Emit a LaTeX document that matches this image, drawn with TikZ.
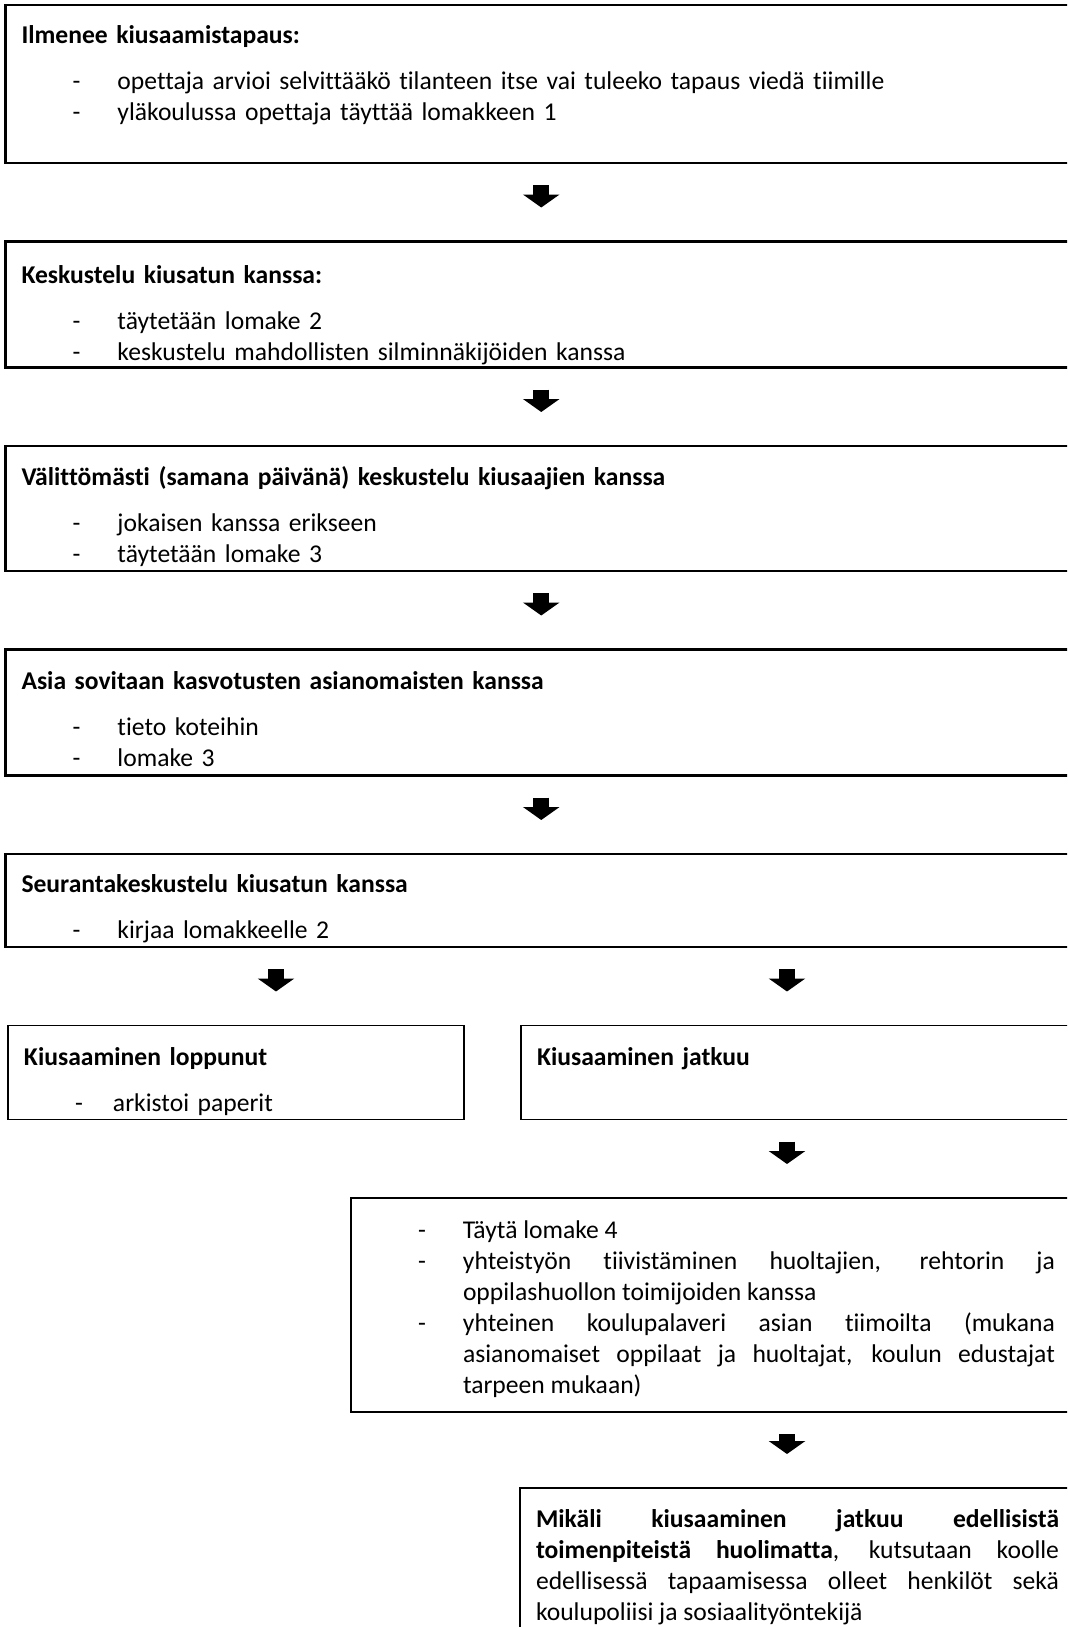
\documentclass[tikz,border=0pt]{standalone}
\usepackage{fontspec}
\setmainfont{Carlito}[Ligatures=NoCommon]
\usetikzlibrary{positioning,arrows.meta,calc}

\hyphenpenalty=10000
\exhyphenpenalty=10000
\tolerance=9999

% otsikkorivi ja viivalla alkava kohta
\newcommand{\otsikko}[1]{\textbf{#1}\par\vspace{7.5pt}}
\newcommand{\viiva}[2][22.5pt]{\hangindent=\dimexpr25.5pt+#1\relax\hangafter=1
  \noindent\hspace*{25.5pt}\makebox[#1][l]{-}#2\par}

\tikzset{laatikko/.style={
    draw,
    line width=1.3pt,
    anchor=north west,
    inner xsep=8pt,
    inner ysep=0pt,
    outer sep=0pt,
    font=\fontsize{12.8pt}{15.5pt}\selectfont,
  }}
\tikzset{ohut/.style={laatikko, line width=0.9pt}}
\tikzset{nuoli/.style={
    -{Triangle[width=18pt,length=6.5pt]},
    line width=8pt,
    shorten <=11pt,
    shorten >=17pt,
  }}

\begin{document}
\begin{tikzpicture}[node distance=39.25pt]
        \useasboundingbox (0,0) rectangle (533.5pt,-813.5pt);
        \clip (0,0) rectangle (533.5pt,-813.5pt);

        \node (b1) [laatikko, text width=519.75pt, text height=19.5pt, text depth=59.5pt] at (2.75pt,-2.5pt) {
          \otsikko{Ilmenee kiusaamistapaus:}
          \viiva{opettaja arvioi selvittääkö tilanteen itse vai tuleeko tapaus viedä tiimille}
          \viiva{yläkoulussa opettaja täyttää lomakkeen 1}
        };

        \node (b2) [laatikko, text width=519.75pt, text height=21pt, text depth=42pt, below=of b1] {
          \otsikko{Keskustelu kiusatun kanssa:}
          \viiva{täytetään lomake 2}
          \viiva{keskustelu mahdollisten silminnäkijöiden kanssa}
        };

        \node (b3) [laatikko, text width=519.75pt, text height=19.5pt, text depth=43pt, below=of b2] {
          \otsikko{Välittömästi (samana päivänä) keskustelu kiusaajien kanssa}
          \viiva{jokaisen kanssa erikseen}
          \viiva{täytetään lomake 3}
        };

        \node (b4) [laatikko, text width=519.75pt, text height=20pt, text depth=43pt, below=of b3] {
          \otsikko{Asia sovitaan kasvotusten asianomaisten kanssa}
          \viiva{tieto koteihin}
          \viiva{lomake 3}
        };

        \node (b5) [laatikko, text width=519.75pt, text height=19pt, text depth=27.5pt, below=of b4] {
          \otsikko{Seurantakeskustelu kiusatun kanssa}
          \viiva{kirjaa lomakkeelle 2}
        };

        \node (b6) [ohut, text width=212pt, text height=20pt, text depth=27pt,
        below right=39.25pt and 1.25pt of b5.south west] {
          \otsikko{Kiusaaminen loppunut}
          \viiva[19pt]{arkistoi paperit}
        };

        \node (b7) [ohut, text width=262pt, text height=20pt, text depth=27pt, right=28.5pt of b6] {
          \textbf{Kiusaaminen jatkuu}
        };

        \node (b8) [ohut, align=justify, text width=344pt, text height=20pt, text depth=87pt,
        below right=39.25pt and -85pt of b7.south west] {
          \viiva{Täytä lomake 4}
          \viiva{yhteistyön tiivistäminen huoltajien, rehtorin ja oppilashuollon toimijoiden kanssa}
          \viiva{yhteinen koulupalaveri asian tiimoilta (mukana asianomaiset oppilaat ja huoltajat, koulun edustajat tarpeen mukaan)}
        };

        \node (b9) [ohut, align=justify, text width=261.5pt, text height=19.5pt, text depth=61pt,
        below right=38pt and 84.5pt of b8.south west] {
          \textbf{Mikäli kiusaaminen jatkuu edellisistä toimenpiteistä huolimatta}, kutsutaan koolle edellisessä tapaamisessa olleet henkilöt sekä koulupoliisi ja sosiaalityöntekijä
        };

        \coordinate (pL) at (138pt,0);
        \coordinate (pR) at (393.5pt,0);

        \draw [nuoli] (b1.south) -- (b2.north);
        \draw [nuoli] (b2.south) -- (b3.north);
        \draw [nuoli] (b3.south) -- (b4.north);
        \draw [nuoli] (b4.south) -- (b5.north);
        \draw [nuoli] (b5.south -| pL) -- (b6.north -| pL);
        \draw [nuoli] (b5.south -| pR) -- (b7.north -| pR);
        \draw [nuoli] (b7.south -| pR) -- (b8.north -| pR);
        \draw [nuoli] (b8.south -| pR) -- (b9.north -| pR);
      \end{tikzpicture}
\end{document}
